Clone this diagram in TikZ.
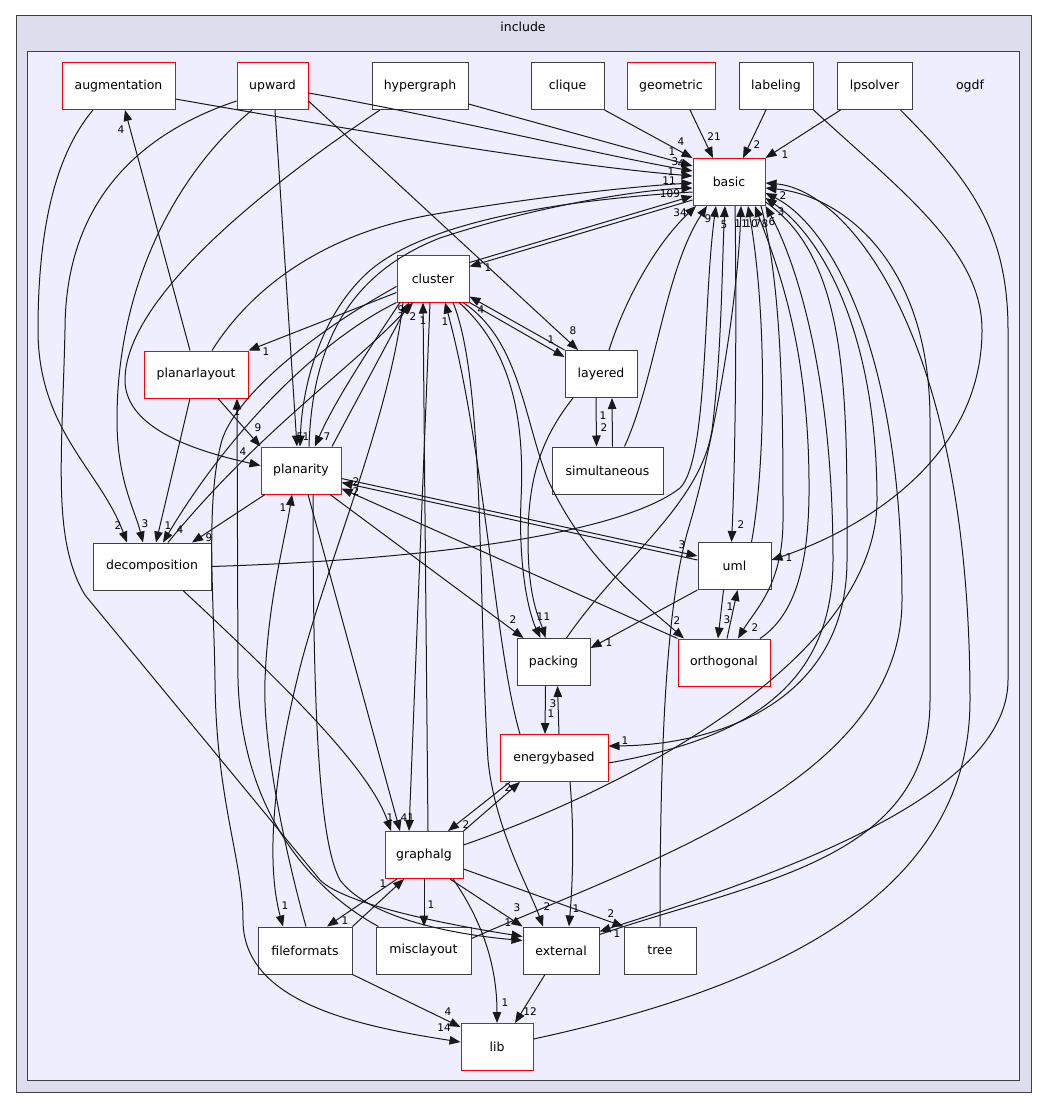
\documentclass[tikz,border=0pt]{standalone}
\usepackage{fontspec}
\setmainfont{DejaVu Sans}
\usetikzlibrary{arrows.meta}
\definecolor{outerfill}{HTML}{DDDDEE}
\definecolor{innerfill}{HTML}{EEEEFF}
\definecolor{framegray}{HTML}{404040}
\tikzset{
  dirbox/.style={draw=framegray, fill=white, line width=1pt, minimum height=47pt, inner sep=0pt, font=\fontsize{12.5}{14}\selectfont},
  hotbox/.style={dirbox, draw=red},
  dep/.style={->, line width=1pt, draw=black!90},
  cnt/.style={font=\fontsize{10.5}{12}\selectfont, inner sep=0pt},
  grouptitle/.style={font=\fontsize{12.5}{14}\selectfont, inner sep=0pt}
}
\begin{document}
\begin{tikzpicture}[>={Triangle[length=11pt,width=8.5pt]}, x=1pt, y=-1pt]
\useasboundingbox (0,0) rectangle (1048,1108);
% groups
\draw[fill=outerfill, draw=framegray, line width=1pt] (16,16) rectangle (1031,1092);
\node[grouptitle] (include) at (523,27) {include};
\draw[fill=innerfill, draw=framegray, line width=1pt] (27,52) rectangle (1019,1080);
\node[grouptitle] (ogdf) at (970,86) {ogdf};
% directories
\node[hotbox, minimum width=113pt] (augmentation) at (118.5,86) {augmentation};
\node[hotbox, minimum width=71pt] (upward) at (272.5,86) {upward};
\node[dirbox, minimum width=96pt] (hypergraph) at (420,86) {hypergraph};
\node[dirbox, minimum width=73pt] (clique) at (567.5,86) {clique};
\node[hotbox, minimum width=88pt] (geometric) at (671,86) {geometric};
\node[dirbox, minimum width=74pt] (labeling) at (776,86) {labeling};
\node[dirbox, minimum width=75pt] (lpsolver) at (874.5,86) {lpsolver};
\node[hotbox, minimum width=72pt] (basic) at (729,182) {basic};
\node[hotbox, minimum width=72pt] (cluster) at (433,278.5) {cluster};
\node[hotbox, minimum width=104pt] (planarlayout) at (196,374.5) {planarlayout};
\node[dirbox, minimum width=72pt] (layered) at (601,374) {layered};
\node[dirbox, minimum width=111pt] (simultaneous) at (607.5,470.5) {simultaneous};
\node[hotbox, minimum width=80pt] (planarity) at (301,470.5) {planarity};
\node[dirbox, minimum width=118pt] (decomposition) at (152,566.5) {decomposition};
\node[dirbox, minimum width=73pt] (uml) at (734.5,566) {uml};
\node[dirbox, minimum width=73pt] (packing) at (553.5,662) {packing};
\node[hotbox, minimum width=92pt] (orthogonal) at (724,662.5) {orthogonal};
\node[hotbox, minimum width=108pt] (energybased) at (554,758) {energybased};
\node[hotbox, minimum width=78pt] (graphalg) at (424,855) {graphalg};
\node[dirbox, minimum width=94pt] (fileformats) at (305,950.5) {fileformats};
\node[dirbox, minimum width=95pt] (misclayout) at (423.5,950.5) {misclayout};
\node[dirbox, minimum width=76pt] (external) at (561,950.5) {external};
\node[dirbox, minimum width=72pt] (tree) at (660,950.5) {tree};
\node[hotbox, minimum width=72pt] (lib) at (497,1047) {lib};

% top row -> basic
\draw[dep] (clique.south east) -- (basic.north west);
\draw[dep] ([xshift=19pt]geometric.south) -- ([xshift=-16pt]basic.north);
\draw[dep] ([xshift=-10pt]labeling.south) -- ([xshift=14pt]basic.north);
\draw[dep] ([xshift=-34pt]lpsolver.south) -- (basic.north east);
\draw[dep] ([yshift=-18pt]hypergraph.east) -- ([yshift=16pt]basic.west);
\draw[dep] ([yshift=-7pt]upward.east) .. controls (450,118) and (600,155) .. ([yshift=11pt]basic.west);
\draw[dep] ([yshift=-13pt]augmentation.east) .. controls (340,128) and (560,165) .. ([yshift=6pt]basic.west);
\node[cnt] (c-cli-bas) at (681,142) {4};
\node[cnt] (c-geo-bas) at (714,137) {21};
\node[cnt] (c-lab-bas) at (757,145) {2};
\node[cnt] (c-lps-bas) at (785,155) {1};
\node[cnt] (c-hyp-bas) at (672,152) {1};
\node[cnt] (c-upw-bas) at (675,162) {3};
\node[cnt] (c-aug-bas) at (681,164) {4};

% long ones into basic from the left
\draw[dep] ([xshift=16pt]planarlayout.north) .. controls (250,290) and (320,235) .. (430,215) .. controls (540,196) and (640,186) .. ([yshift=-1pt]basic.west);
\draw[dep] ([xshift=8pt]planarity.north) .. controls (312,350) and (345,275) .. (440,238) .. controls (540,205) and (640,190) .. ([yshift=-6pt]basic.west);
\draw[dep] ([yshift=-10pt]basic.west) .. controls (560,200) and (420,222) .. (365,275) .. controls (318,320) and (302,390) .. ([xshift=-1pt]planarity.north);
\draw[dep] ([yshift=16pt]cluster.east) -- ([yshift=-14pt]basic.west);
\draw[dep] ([yshift=-18pt]basic.west) -- ([yshift=12pt]cluster.east);
\node[cnt] (c-pla-bas) at (671,172) {1};
\node[cnt] (c-pty-bas) at (669,181) {11};
\node[cnt] (c-bas-pty) at (306,437) {1};
\node[cnt] (c-clu-bas) at (670,194) {109};
\node[cnt] (c-bas-clu) at (488,268) {1};

% into basic from below
\draw[dep] ([xshift=8pt]layered.north) .. controls (625,300) and (655,245) .. ([xshift=-33pt]basic.south);
\draw[dep] ([xshift=17pt]simultaneous.north) .. controls (655,380) and (665,270) .. ([xshift=-22pt]basic.south);
\draw[dep] (decomposition.east) .. controls (420,560) and (620,535) .. (680,488) .. controls (708,460) and (703,300) .. ([xshift=-13pt]basic.south);
\draw[dep] ([xshift=13pt]packing.north) .. controls (620,560) and (700,505) .. (712,430) .. controls (722,350) and (722,260) .. ([xshift=-4pt]basic.south);
\draw[dep] (tree.north) .. controls (660,760) and (665,610) .. (688,530) .. controls (715,440) and (738,300) .. ([xshift=12pt]basic.south);
\draw[dep] ([xshift=17pt]uml.north) .. controls (765,470) and (768,320) .. ([xshift=19pt]basic.south);
\draw[dep] ([xshift=6pt]basic.south) .. controls (737,330) and (735,470) .. ([xshift=-3pt]uml.north);
\draw[dep] ([xshift=36pt]orthogonal.north) .. controls (795,615) and (810,565) .. (809,480) .. controls (808,340) and (775,260) .. ([xshift=26pt]basic.south);
\draw[dep] ([xshift=32pt]basic.south) .. controls (783,290) and (783,420) .. (783,520) .. controls (783,585) and (755,610) .. ([xshift=14pt]orthogonal.north);
\draw[dep] ([yshift=-5pt]energybased.east) .. controls (740,740) and (833,690) .. (833,560) .. controls (833,360) and (790,250) .. (basic.south east);
\draw[dep] ([yshift=-20pt]basic.east) .. controls (850,260) and (847,400) .. (847,560) .. controls (847,700) and (720,745) .. ([yshift=12pt]energybased.east);
\draw[dep] ([yshift=10pt]graphalg.east) .. controls (650,780) and (877,650) .. (877,500) .. controls (877,330) and (820,235) .. ([yshift=-16pt]basic.east);
\draw[dep] ([yshift=12pt]misclayout.east) .. controls (650,860) and (902,780) .. (902,600) .. controls (902,350) and (830,225) .. ([yshift=-11pt]basic.east);
\draw[dep] ([yshift=16pt]external.east) .. controls (760,880) and (930,860) .. (930,700) -- (930,420) .. controls (930,260) and (840,195) .. ([yshift=-6pt]basic.east);
\draw[dep] ([yshift=8pt]lib.east) .. controls (760,990) and (970,900) .. (970,700) .. controls (970,340) and (850,190) .. ([yshift=-1pt]basic.east);
\node[cnt] (c-lay-bas) at (680,213) {34};
\node[cnt] (c-sim-bas) at (708,219) {9};
\node[cnt] (c-dec-bas) at (724,225) {5};
\node[cnt] (c-pac-bas) at (741,224) {11};
\node[cnt] (c-tre-bas) at (751,224) {10};
\node[cnt] (c-uml-bas) at (758,224) {7};
\node[cnt] (c-ort-bas) at (765,224) {8};
\node[cnt] (c-ene-bas) at (772,222) {6};
\node[cnt] (c-gra-bas) at (781,212) {3};
\node[cnt] (c-ext-bas) at (783,196) {2};
\node[cnt] (c-bas-uml) at (741,525) {2};
\node[cnt] (c-bas-ort) at (755,628) {2};
\node[cnt] (c-bas-ene) at (625,741) {1};

% far right
\draw[dep] (labeling.south east) .. controls (900,190) and (982,250) .. (982,330) .. controls (982,460) and (860,530) .. ([yshift=6pt]uml.east);
\draw[dep] ([xshift=26pt]lpsolver.south) .. controls (970,180) and (1008,230) .. (1008,330) -- (1008,680) .. controls (1008,800) and (760,880) .. ([yshift=19pt]external.east);
\node[cnt] (c-lab-uml) at (789,558) {1};
\node[cnt] (c-lps-ext) at (617,934) {1};

% left side
\draw[dep] ([xshift=-25.5pt]augmentation.south) .. controls (55,155) and (38,230) .. (38,330) .. controls (38,430) and (100,470) .. ([xshift=-25pt]decomposition.north);
\draw[dep] ([xshift=-20.5pt]upward.south) .. controls (180,170) and (117,280) .. (117,420) .. controls (117,480) and (135,510) .. ([xshift=-9pt]decomposition.north);
\draw[dep] ([yshift=-15pt]upward.west) .. controls (120,140) and (65,220) .. (65,330) .. controls (62,460) and (52,540) .. (85,595) -- (320,880) .. controls (345,905) and (450,925) .. ([yshift=14pt]external.west);
\draw[dep] ([yshift=-15pt]upward.east) -- ([xshift=-23pt]layered.north);
\draw[dep] ([xshift=2.5pt]upward.south) -- ([xshift=-4pt]planarity.north);
\draw[dep] ([xshift=-40pt]hypergraph.south) .. controls (260,190) and (125,300) .. (125,380) .. controls (125,430) and (200,452) .. ([yshift=5pt]planarity.west);
\draw[dep] ([xshift=-6pt]planarlayout.north) -- ([xshift=6.5pt]augmentation.south);
\node[cnt] (c-aug-dec) at (118,526) {2};
\node[cnt] (c-upw-dec) at (145,524) {3};
\node[cnt] (c-upw-ext) at (508,923) {1};
\node[cnt] (c-upw-lay) at (573,331) {8};
\node[cnt] (c-upw-pty) at (300,437) {5};
\node[cnt] (c-hyp-pty) at (243,452) {4};
\node[cnt] (c-pla-aug) at (121,130) {4};

% around cluster and planarity
\draw[dep] ([yshift=-14pt]cluster.west) -- (planarlayout.north east);
\draw[dep] (cluster.south west) .. controls (320,340) and (230,430) .. ([xshift=11pt]decomposition.north);
\draw[dep] ([xshift=16pt]decomposition.north) .. controls (260,430) and (350,370) .. ([xshift=-20pt]cluster.south);
\draw[dep] ([xshift=31pt]planarity.north) -- ([xshift=-24pt]cluster.south);
\draw[dep] ([xshift=-33pt]cluster.south) .. controls (375,340) and (335,400) .. ([xshift=14pt]planarity.north);
\draw[dep] ([yshift=-8pt]cluster.west) .. controls (300,340) and (235,400) .. (222,440) .. controls (205,500) and (214,600) .. (215,680) .. controls (216,800) and (243,860) .. (243,920) .. controls (243,1000) and (350,1025) .. ([yshift=5pt]lib.west);
\draw[dep] ([xshift=-30pt]cluster.south) .. controls (390,420) and (320,580) .. (297,680) .. controls (275,770) and (265,860) .. ([xshift=-22pt]fileformats.north);
\draw[dep] ([xshift=1pt]fileformats.north) .. controls (290,870) and (262,750) .. (265,680) .. controls (268,600) and (285,540) .. ([xshift=-9pt]planarity.south);
\draw[dep] ([xshift=-45pt]misclayout.north) .. controls (320,895) and (242,820) .. (238,680) -- ([xshift=41pt]planarlayout.south);
\draw[dep] ([xshift=22pt]planarlayout.south) -- (planarity.north west);
\draw[dep] ([xshift=-6pt]planarlayout.south) -- ([xshift=4pt]decomposition.north);
\draw[dep] ([xshift=-36pt]planarity.south) -- ([xshift=40pt]decomposition.north);
\node[cnt] (c-clu-pla) at (266,352) {1};
\node[cnt] (c-clu-dec) at (180,530) {4};
\node[cnt] (c-dec-clu) at (413,317) {2};
\node[cnt] (c-pty-clu) at (401,310) {9};
\node[cnt] (c-clu-pty) at (327,437) {7};
\node[cnt] (c-clu-lib) at (444,1028) {14};
\node[cnt] (c-clu-fil) at (285,906) {1};
\node[cnt] (c-fil-pty) at (283,508) {1};
\node[cnt] (c-mis-pla) at (237,412) {1};
\node[cnt] (c-pla-pty) at (258,428) {9};
\node[cnt] (c-pla-dec) at (168,526) {1};
\node[cnt] (c-pty-dec) at (209,538) {9};

% planarity to the right
\draw[dep] ([xshift=29pt]planarity.south) -- ([xshift=-30pt]packing.north);
\draw[dep] ([yshift=-8pt]planarity.east) -- ([yshift=10pt]uml.west);
\draw[dep] ([yshift=6pt]uml.west) -- ([yshift=-12pt]planarity.east);
\draw[dep] (orthogonal.north west) -- ([yshift=-18pt]planarity.east);
\draw[dep] ([xshift=7pt]planarity.south) -- ([xshift=-24pt]graphalg.north);
\draw[dep] ([xshift=12pt]planarity.south) .. controls (313,700) and (318,840) .. (340,880) .. controls (370,920) and (460,935) .. ([yshift=10pt]external.west);
\draw[dep] ([xshift=31pt]decomposition.south) .. controls (290,690) and (370,770) .. ([xshift=-33pt]graphalg.north);
\node[cnt] (c-pty-pac) at (513,620) {2};
\node[cnt] (c-pty-uml) at (682,545) {3};
\node[cnt] (c-uml-pty) at (356,482) {2};
\node[cnt] (c-ort-pty) at (356,492) {2};
\node[cnt] (c-pty-gra) at (404,818) {4};
\node[cnt] (c-dec-gra) at (390,818) {1};

% cluster downwards
\draw[dep] ([xshift=-3pt]cluster.south) -- ([xshift=-15pt]graphalg.north);
\draw[dep] ([xshift=4pt]graphalg.north) -- ([xshift=-10pt]cluster.south);
\draw[dep] ([xshift=-34pt]energybased.north) .. controls (495,650) and (485,450) .. ([xshift=12pt]cluster.south);
\draw[dep] ([xshift=20pt]cluster.south) .. controls (485,380) and (478,600) .. (488,760) .. controls (495,830) and (530,890) .. ([xshift=-18pt]external.north);
\draw[dep] ([xshift=26pt]cluster.south) .. controls (512,350) and (525,420) .. (521,500) .. controls (518,580) and (532,620) .. ([xshift=-13pt]packing.north);
\draw[dep] ([xshift=30pt]cluster.south) .. controls (520,340) and (524,420) .. (548,480) .. controls (585,560) and (640,600) .. ([xshift=-40pt]orthogonal.north);
\draw[dep] (layered.north west) -- ([yshift=-18pt]cluster.east);
\draw[dep] (cluster.south east) -- ([yshift=17pt]layered.west);
\node[cnt] (c-clu-gra) at (411,818) {1};
\node[cnt] (c-gra-clu) at (423,321) {1};
\node[cnt] (c-ene-clu) at (445,322) {1};
\node[cnt] (c-clu-ext) at (547,907) {2};
\node[cnt] (c-clu-pac) at (540,617) {1};
\node[cnt] (c-clu-ort) at (677,621) {2};
\node[cnt] (c-lay-clu) at (481,310) {4};
\node[cnt] (c-clu-lay) at (551,340) {1};

% middle
\draw[dep] ([xshift=-28pt]layered.south) .. controls (540,440) and (528,480) .. (528,540) .. controls (528,600) and (540,620) .. ([xshift=-8pt]packing.north);
\draw[dep] ([xshift=-5pt]layered.south) -- ([xshift=-11pt]simultaneous.north);
\draw[dep] ([xshift=5pt]simultaneous.north) -- ([xshift=11pt]layered.south);
\draw[dep] (uml.south west) -- ([yshift=14pt]packing.east);
\draw[dep] ([xshift=3pt]orthogonal.north) -- ([xshift=3pt]uml.south);
\draw[dep] ([xshift=-11pt]uml.south) -- ([xshift=-6pt]orthogonal.north);
\draw[dep] ([xshift=-8pt]packing.south) -- ([xshift=-9pt]energybased.north);
\draw[dep] ([xshift=5pt]energybased.north) -- ([xshift=4pt]packing.south);
\node[cnt] (c-lay-pac) at (547,617) {1};
\node[cnt] (c-lay-sim) at (604,428) {2};
\node[cnt] (c-sim-lay) at (603,416) {1};
\node[cnt] (c-uml-pac) at (609,643) {1};
\node[cnt] (c-ort-uml) at (730,607) {1};
\node[cnt] (c-uml-ort) at (727,620) {3};
\node[cnt] (c-pac-ene) at (551,714) {1};
\node[cnt] (c-ene-pac) at (553,704) {3};

% bottom
\draw[dep] ([xshift=-44pt]energybased.south) -- ([xshift=24pt]graphalg.north);
\draw[dep] (graphalg.north east) -- ([xshift=-34pt]energybased.south);
\draw[dep] ([xshift=16pt]energybased.south) .. controls (575,840) and (572,890) .. ([xshift=8pt]external.north);
\draw[dep] ([yshift=-14pt]graphalg.east) -- (tree.north west);
\draw[dep] (graphalg.south) -- ([xshift=0.5pt]misclayout.north);
\draw[dep] ([xshift=26pt]graphalg.south) -- (external.north west);
\draw[dep] ([xshift=29pt]graphalg.south) .. controls (485,925) and (497,970) .. (lib.north);
\draw[dep] ([xshift=-27pt]graphalg.south) -- ([xshift=22pt]fileformats.north);
\draw[dep] (fileformats.north east) -- ([xshift=-20pt]graphalg.south);
\draw[dep] (fileformats.south east) -- ([yshift=20pt]lib.west);
\draw[dep] ([xshift=-16pt]external.south) -- ([xshift=18pt]lib.north);
\node[cnt] (c-ene-gra) at (466,825) {2};
\node[cnt] (c-gra-ene) at (508,788) {2};
\node[cnt] (c-ene-ext) at (576,909) {1};
\node[cnt] (c-gra-tre) at (611,914) {2};
\node[cnt] (c-gra-mis) at (431,905) {1};
\node[cnt] (c-gra-ext) at (517,908) {3};
\node[cnt] (c-gra-lib) at (505,1003) {1};
\node[cnt] (c-gra-fil) at (345,921) {1};
\node[cnt] (c-fil-gra) at (383,884) {1};
\node[cnt] (c-fil-lib) at (448,1012) {4};
\node[cnt] (c-ext-lib) at (530,1012) {12};
\end{tikzpicture}
\end{document}
